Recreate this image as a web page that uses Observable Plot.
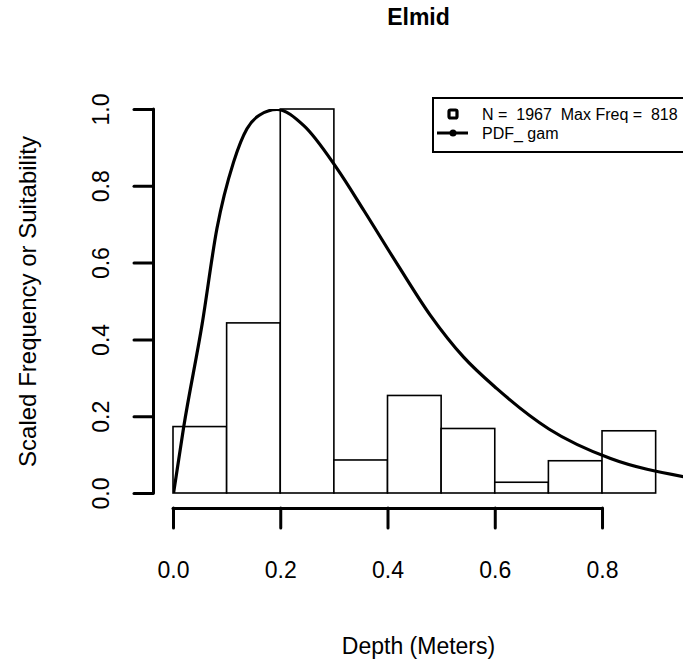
<!DOCTYPE html>
<html>
<head>
<meta charset="utf-8">
<script src="https://cdn.jsdelivr.net/npm/d3@7"></script>
<script src="https://cdn.jsdelivr.net/npm/@observablehq/plot@0.6"></script>
<style>
  html, body { margin: 0; padding: 0; background: white; }
  #wrap { position: relative; width: 683px; height: 668px; overflow: hidden; background: white;
          font-family: "Liberation Sans", Arial, sans-serif; color: black; }
  #legend { position: absolute; left: 432px; top: 97px; width: 280px; height: 56px;
            border: 2px solid black; box-sizing: border-box; background: white; }
  #legend span { position: absolute; font-size: 16px; white-space: pre; line-height: 1; }
  #legend svg { position: absolute; left: 0; top: 0; }
</style>
</head>
<body>
<div id="wrap"></div>
<script>
// ---- data ----
const title = "Elmid";
const xLabel = "Depth (Meters)";
const yLabel = "Scaled Frequency or Suitability";
const binStarts = [0.0, 0.1, 0.2, 0.3, 0.4, 0.5, 0.6, 0.7, 0.8];
const binEnds   = [0.1, 0.2, 0.3, 0.4, 0.5, 0.6, 0.7, 0.8, 0.9];
const scaledFreq = [0.173, 0.443, 1.0, 0.086, 0.254, 0.168, 0.028, 0.084, 0.162];
const pdfX = [0, 0.019, 0.0535, 0.081, 0.112, 0.137, 0.16, 0.193, 0.243, 0.305, 0.355, 0.417, 0.479, 0.541, 0.603, 0.7, 0.815, 0.951];
const pdfY = [0, 0.173, 0.442, 0.69, 0.863, 0.95, 0.985, 1.0, 0.958, 0.846, 0.737, 0.598, 0.464, 0.355, 0.273, 0.168, 0.091, 0.044];
const xTicks = [0.0, 0.2, 0.4, 0.6, 0.8];
const yTicks = [0.0, 0.2, 0.4, 0.6, 0.8, 1.0];
const legendLabels = ["N =  1967  Max Freq =  818", "PDF_ gam"];

// ---- tables built from the arrays ----
const bins = binStarts.map((x0, i) => ({x0, x1: binEnds[i], h: scaledFreq[i]}));
const pdf = pdfX.map((x, i) => ({x, y: pdfY[i]}));
const fmt = d3.format(".1f");

const chart = Plot.plot({
  width: 683,
  height: 668,
  marginLeft: 173,
  marginRight: 0,
  marginTop: 109,
  marginBottom: 175,
  x: {domain: [0, 0.951]},
  y: {domain: [0, 1]},
  style: {fontFamily: "'Liberation Sans', Arial, sans-serif", background: "white", color: "black"},
  marks: [
    Plot.rectY(bins, {x1: "x0", x2: "x1", y1: 0, y2: "h", fill: "white", stroke: "black", strokeWidth: 1.6}),
    Plot.line(pdf, {x: "x", y: "y", curve: "monotone-x", stroke: "black", strokeWidth: 3.2, clip: true}),
    // y axis (offset spine, R style)
    Plot.ruleX([0], {y1: yTicks[0], y2: yTicks[yTicks.length - 1], dx: -20, strokeWidth: 3, strokeLinecap: "round"}),
    Plot.axisY({ticks: yTicks, tickSize: 19, dx: -20, strokeWidth: 3, strokeLinecap: "round", tickFormat: () => "", label: null}),
    Plot.text(yTicks, {y: d => d, frameAnchor: "left", dx: -72, rotate: -90, textAnchor: "middle", lineAnchor: "middle", text: fmt, fontSize: 23, fill: "black"}),
    // x axis
    Plot.ruleY([0], {x1: xTicks[0], x2: xTicks[xTicks.length - 1], dy: 15, strokeWidth: 3, strokeLinecap: "round"}),
    Plot.axisX({ticks: xTicks, tickSize: 20, dy: 15, strokeWidth: 3, strokeLinecap: "round", tickFormat: () => "", label: null}),
    Plot.text(xTicks, {x: d => d, frameAnchor: "bottom", dy: 77, textAnchor: "middle", lineAnchor: "middle", text: fmt, fontSize: 23, fill: "black"}),
    // titles
    Plot.text([title], {frameAnchor: "top", dx: -10, dy: -92, textAnchor: "middle", lineAnchor: "middle", fontWeight: "bold", fontSize: 23, fill: "black"}),
    Plot.text([xLabel], {frameAnchor: "bottom", dx: -10, dy: 153, textAnchor: "middle", lineAnchor: "middle", fontSize: 23, fill: "black"}),
    Plot.text([yLabel], {frameAnchor: "left", dx: -145, rotate: -90, textAnchor: "middle", lineAnchor: "middle", fontSize: 24, fill: "black"})
  ]
});

const wrap = document.getElementById("wrap");
wrap.appendChild(chart);

// legend
const legend = document.createElement("div");
legend.id = "legend";
legend.innerHTML = `
<svg width="60" height="56">
  <rect x="15" y="11" width="8" height="8" rx="1.5" fill="white" stroke="black" stroke-width="3.2"/>
  <line x1="3" x2="34" y1="34" y2="34" stroke="black" stroke-width="3"/>
  <circle cx="19" cy="34" r="3.5" fill="black"/>
</svg>
<span style="left:48px; top:8px;">${legendLabels[0]}</span>
<span style="left:48px; top:27px;">${legendLabels[1]}</span>`;
wrap.appendChild(legend);
</script>
</body>
</html>
